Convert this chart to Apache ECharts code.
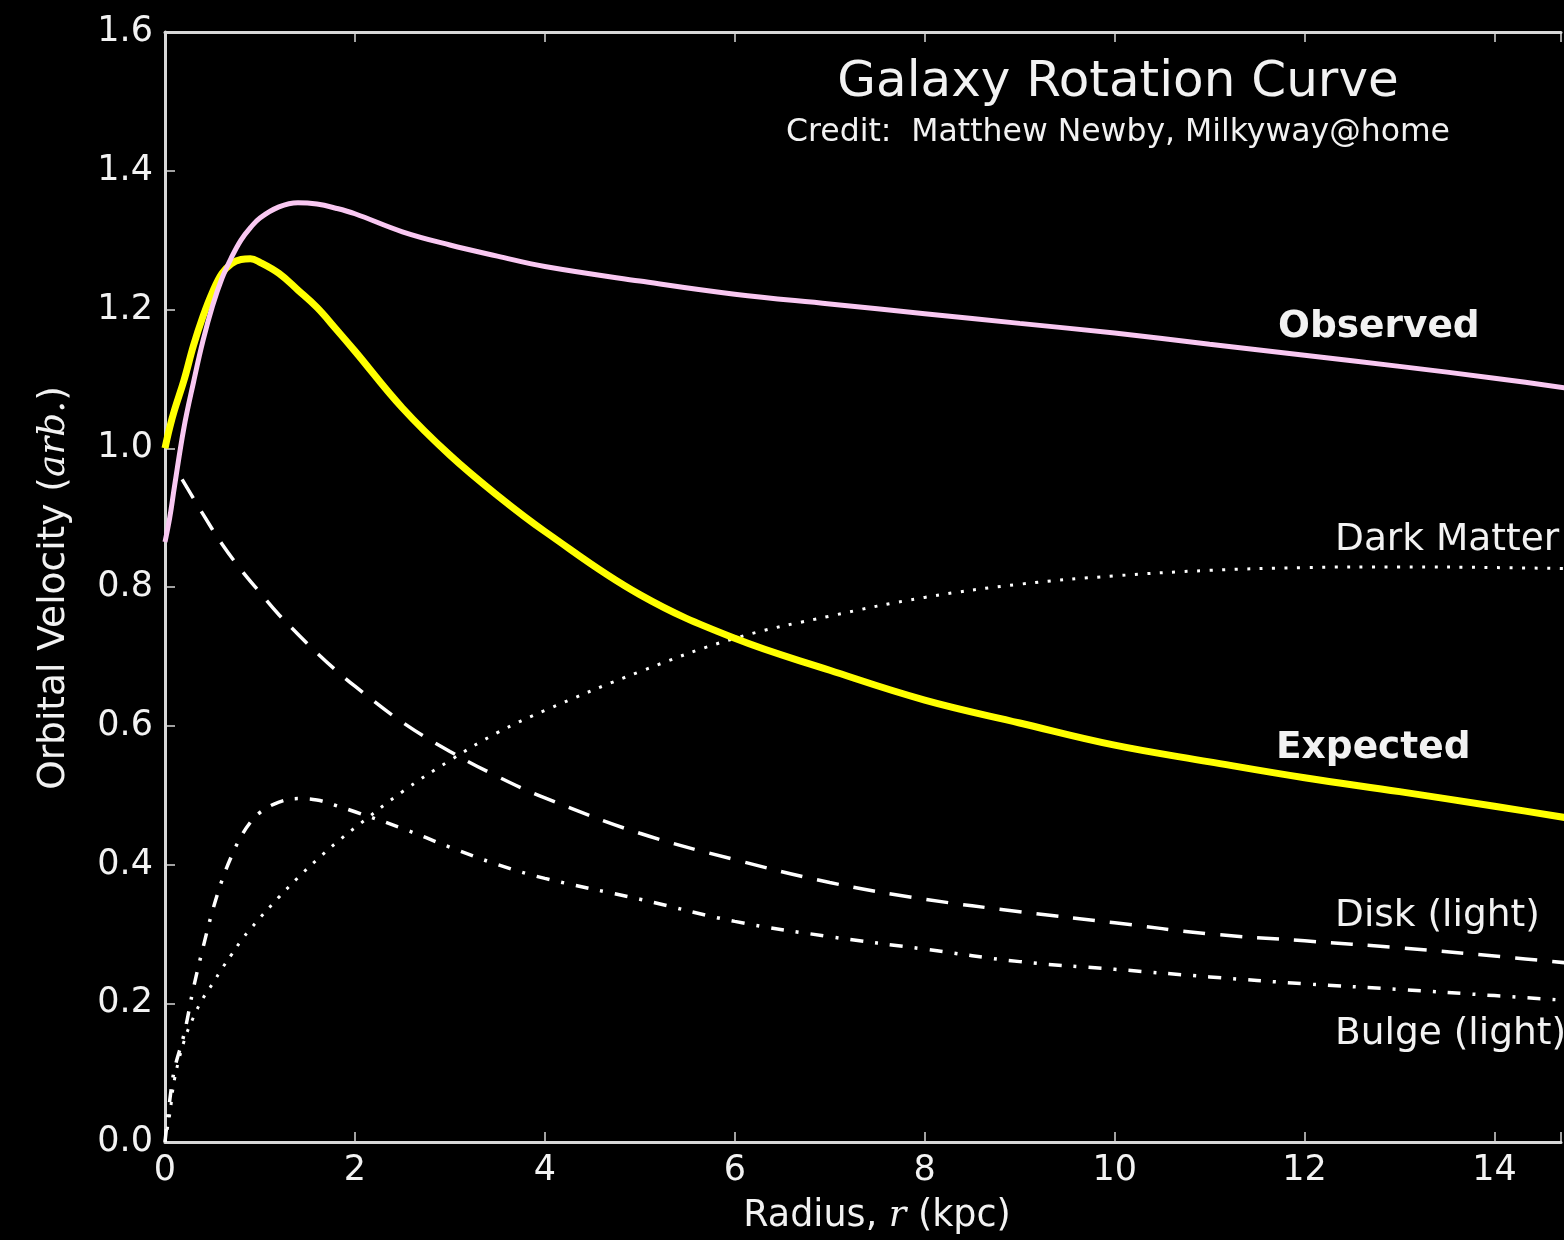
<!DOCTYPE html>
<html>
<head>
<meta charset="utf-8">
<script src="https://cdn.jsdelivr.net/npm/echarts@6/dist/echarts.min.js"></script>
<style>
html,body{margin:0;padding:0;background:#000;}
#chart{width:1564px;height:1240px;}
</style>
</head>
<body>
<div id="chart"></div>
<script>
// Radius (kpc)
const radius   = [0, 0.05, 0.1, 0.2, 0.3, 0.4, 0.5, 0.6, 0.7, 0.8, 0.9, 1.0, 1.2, 1.4, 1.6, 1.8, 2.0, 2.5, 3, 3.5, 4, 5, 6, 7, 8, 9, 10, 11, 12, 13, 14, 15];
const observed = [0.865, 0.90, 0.945, 1.03, 1.095, 1.155, 1.205, 1.245, 1.275, 1.300, 1.318, 1.332, 1.348, 1.354, 1.352, 1.346, 1.338, 1.312, 1.293, 1.277, 1.262, 1.241, 1.222, 1.208, 1.194, 1.180, 1.166, 1.150, 1.134, 1.118, 1.101, 1.082];
const expected = [1.0, 1.03, 1.055, 1.098, 1.148, 1.19, 1.225, 1.252, 1.266, 1.272, 1.273, 1.268, 1.252, 1.228, 1.203, 1.172, 1.14, 1.058, 0.99, 0.932, 0.880, 0.789, 0.726, 0.680, 0.637, 0.604, 0.572, 0.548, 0.525, 0.505, 0.484, 0.462];
const darkMatter = [0, 0.04, 0.09, 0.145, 0.18, 0.207, 0.228, 0.25, 0.27, 0.29, 0.307, 0.323, 0.353, 0.381, 0.407, 0.431, 0.453, 0.505, 0.55, 0.59, 0.622, 0.678, 0.726, 0.758, 0.785, 0.804, 0.816, 0.824, 0.828, 0.829, 0.828, 0.826];
const diskR    = [0.18, 0.4, 0.6, 0.8, 1.0, 1.2, 1.4, 1.6, 1.8, 2.0, 2.5, 3, 3.5, 4, 5, 6, 7, 8, 9, 10, 11, 12, 13, 14, 15];
const disk     = [0.955, 0.905, 0.862, 0.825, 0.792, 0.76, 0.732, 0.705, 0.68, 0.657, 0.605, 0.563, 0.527, 0.496, 0.445, 0.407, 0.374, 0.350, 0.332, 0.316, 0.300, 0.290, 0.280, 0.268, 0.255];
const bulge    = [0, 0.06, 0.105, 0.155, 0.222, 0.28, 0.333, 0.377, 0.412, 0.44, 0.461, 0.475, 0.490, 0.495, 0.493, 0.485, 0.476, 0.452, 0.425, 0.400, 0.380, 0.350, 0.318, 0.296, 0.278, 0.260, 0.249, 0.238, 0.228, 0.220, 0.211, 0.202];
const xTicks = [0, 2, 4, 6, 8, 10, 12, 14];
const yTicks = [0.0, 0.2, 0.4, 0.6, 0.8, 1.0, 1.2, 1.4, 1.6];

const pair = (xs, ys) => xs.map((x, i) => [x, ys[i]]);
const FONT = '"DejaVu Sans", Verdana, sans-serif';
const AXIS_COLOR = '#d8d8d8';
const X_MAX = 14.7;

const chart = echarts.init(document.getElementById('chart'), null, {renderer: 'canvas'});

function txt(text, x, y, size, opts) {
  opts = opts || {};
  return {
    type: 'text', x: x, y: y, rotation: opts.rotation || 0, z: 100,
    style: {
      text: text, fill: opts.fill || '#f2f2f2',
      fontSize: size, fontFamily: FONT, fontWeight: opts.bold ? 'bold' : 'normal',
      textAlign: opts.align || 'left', align: opts.align || 'left',
      textVerticalAlign: 'middle', verticalAlign: 'middle',
      rich: opts.rich
    }
  };
}

const mathRich = (size) => ({
  i: {fontStyle: 'italic', fontFamily: '"DejaVu Serif", serif', fontSize: size, fill: '#f2f2f2'}
});

const xCommon = {
  type: 'value', min: 0, max: X_MAX, interval: 2,
  axisLine: {show: true, onZero: false, lineStyle: {color: AXIS_COLOR, width: 3}},
  axisTick: {show: true, inside: true, length: 10, lineStyle: {color: AXIS_COLOR, width: 1.5}},
  splitLine: {show: false}
};

const option = {
  backgroundColor: '#000',
  animation: false,
  grid: {left: 165, top: 32, right: 0, bottom: 98, containLabel: false},
  xAxis: [Object.assign({}, xCommon, {
    position: 'bottom',
    axisLabel: {color: '#f2f2f2', fontSize: 35, fontFamily: FONT, margin: 11,
      formatter: v => xTicks.indexOf(v) >= 0 ? String(v) : ''}
  }), Object.assign({}, xCommon, {
    position: 'top',
    axisLabel: {show: false}
  })],
  yAxis: {
    type: 'value', min: 0, max: 1.6, interval: 0.2,
    axisLine: {show: true, onZero: false, lineStyle: {color: AXIS_COLOR, width: 3}},
    axisTick: {show: true, inside: true, length: 10, lineStyle: {color: AXIS_COLOR, width: 1.5}},
    axisLabel: {color: '#f2f2f2', fontSize: 35, fontFamily: FONT, margin: 12, padding: [6, 0, 0, 0],
      formatter: v => {
        const t = yTicks.find(k => Math.abs(k - v) < 1e-6);
        return t === undefined ? '' : t.toFixed(1);
      }},
    splitLine: {show: false}
  },
  series: [
    {name: 'Dark Matter', type: 'line', data: pair(radius, darkMatter), showSymbol: false,
     smooth: 0.4, lineStyle: {color: '#ffffff', width: 3, type: [3, 9.5], cap: 'butt'}},
    {name: 'Disk (light)', type: 'line', data: pair(diskR, disk), showSymbol: false,
     smooth: 0.4, lineStyle: {color: '#ffffff', width: 3.5, type: [22, 15]}},
    {name: 'Bulge (light)', type: 'line', data: pair(radius, bulge), showSymbol: false,
     smooth: 0.4, lineStyle: {color: '#ffffff', width: 3.5, type: [13, 12, 3, 12]}},
    {name: 'Expected', type: 'line', data: pair(radius, expected), showSymbol: false,
     smooth: 0.4, lineStyle: {color: '#ffff00', width: 7}},
    {name: 'Observed', type: 'line', data: pair(radius, observed), showSymbol: false,
     smooth: 0.4, lineStyle: {color: '#f9c8f2', width: 5}}
  ],
  graphic: [
    txt('Galaxy Rotation Curve', 1118, 83, 50, {align: 'center'}),
    txt('Credit:  Matthew Newby, Milkyway@home', 1118, 133, 31.5, {align: 'center'}),
    txt('Observed', 1278, 327, 37.5, {bold: true}),
    txt('Expected', 1276, 748, 37.5, {bold: true}),
    txt('Dark Matter', 1335, 540, 37.5),
    txt('Disk (light)', 1335, 916, 37.5),
    txt('Bulge (light)', 1335, 1034, 37.5),
    txt('Radius, {i|r} (kpc)', 877, 1217, 36.5, {align: 'center', rich: mathRich(36.5)}),
    txt('Orbital Velocity ({i|arb.})', 54, 588, 37.5, {align: 'center', rotation: Math.PI / 2, rich: mathRich(37.5)})
  ]
};
chart.setOption(option);
</script>
</body>
</html>
